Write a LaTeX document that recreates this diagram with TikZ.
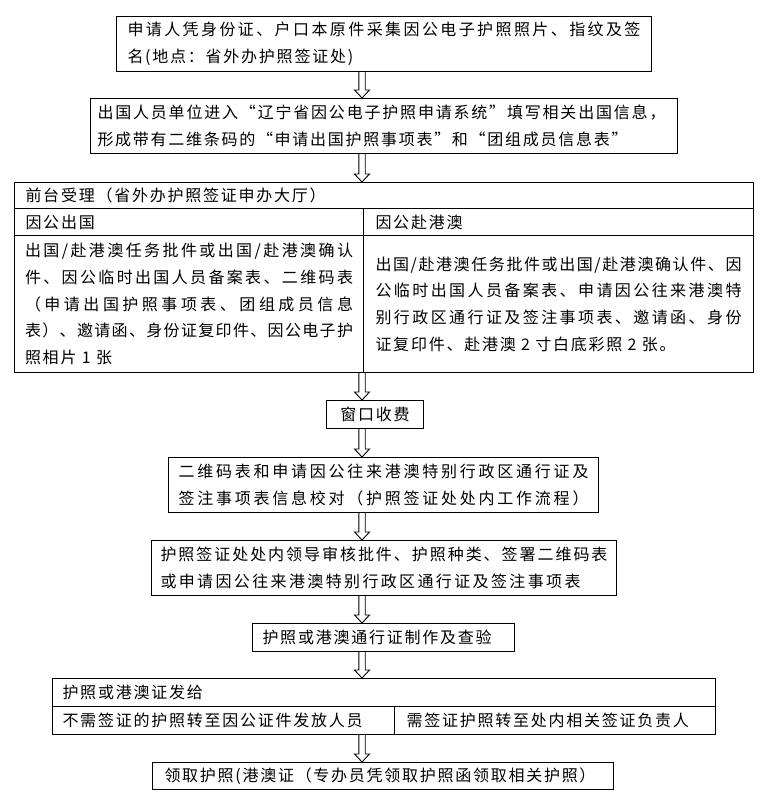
\documentclass[tikz,border=0pt]{standalone}
\usepackage{fontspec}
\setmainfont{Noto Sans CJK SC}[LetterSpace=11]
\usetikzlibrary{calc}
\ExplSyntaxOn
\cs_new_protected:Npn \rfl_spread:n #1
 {
  \bool_set_false:N \l_tmpa_bool
  \tl_map_inline:nn {#1}
   {
    \bool_if:NT \l_tmpa_bool { \hfil }
    \bool_set_true:N \l_tmpa_bool
    ##1
   }
 }
\NewDocumentCommand\spr{mm}
 {
  \makebox[#1][s]{ \rfl_spread:n {#2} }
 }
\ExplSyntaxOff
\tikzset{
  cell/.style={draw, line width=1pt, anchor=north west, inner ysep=0pt, align=left,
    font=\fontsize{16}{26.7}\selectfont},
  arrowline/.style={draw, line width=0.9pt, line join=miter},
}
\newcommand\harrow[2]{%
  \draw[arrowline] let \p1=(#1.south), \p2=(#2.north) in
   (362pt-3.2pt,\y1) -- (362pt-3.2pt,\y2+8pt) -- (362pt-7.5pt,\y2+8pt) -- (362pt,\y2)
   -- (362pt+7.5pt,\y2+8pt) -- (362pt+3.2pt,\y2+8pt) -- (362pt+3.2pt,\y1);}
\begin{document}
\begin{tikzpicture}[x=1pt,y=-1pt]
\fill[white] (0,0) rectangle (769,800);
\useasboundingbox (0,0) rectangle (769,800);

\node[cell, minimum width=535pt, minimum height=55pt, text width=513pt, inner xsep=11pt] (b1) at (116,16)
 {\spr{513pt}{申请人凭身份证、户口本原件采集因公电子护照照片、指纹及签}\\名(地点：省外办护照签证处)};

\node[cell, minimum width=587pt, minimum height=55pt, text width=573pt, inner xsep=7pt] (b2) at (90,98)
 {\spr{568pt}{出国人员单位进入“辽宁省因公电子护照申请系统”填写相关出国信息，}\\\spr{530pt}{形成带有二维条码的“申请出国护照事项表”和“团组成员信息表”}};

\node[cell, minimum width=739pt, minimum height=26pt, text width=717pt, inner xsep=11pt] (th) at (14,182)
 {前台受理（省外办护照签证申办大厅）};
\node[cell, minimum width=349pt, minimum height=27pt, text width=327pt, inner xsep=11pt] (tl1) at (14,208)
 {因公出国};
\node[cell, minimum width=390pt, minimum height=27pt, text width=366pt, inner xsep=12pt] (tr1) at (363,208)
 {因公赴港澳};
\node[cell, minimum width=349pt, minimum height=137pt, text width=328pt, inner xsep=10.5pt] (tl2) at (14,235)
 {\spr{328pt}{出国/赴港澳任务批件或出国/赴港澳确认}\\
  \spr{328pt}{件、因公临时出国人员备案表、二维码表}\\
  \spr{328pt}{（申请出国护照事项表、团组成员信息}\\
  \spr{328pt}{表）、邀请函、身份证复印件、因公电子护}\\
  照相片 1 张};
\node[cell, minimum width=390pt, minimum height=137pt, text width=366pt, inner xsep=12pt] (tr2) at (363,235)
 {\spr{366pt}{出国/赴港澳任务批件或出国/赴港澳确认件、因}\\
  \spr{366pt}{公临时出国人员备案表、申请因公往来港澳特}\\
  \spr{366pt}{别行政区通行证及签注事项表、邀请函、身份}\\
  证复印件、赴港澳 2 寸白底彩照 2 张。};

\node[cell, minimum width=97pt, minimum height=28pt, text width=77pt, inner xsep=10pt, align=center] (fee) at (326,400)
 {窗口收费};

\node[cell, minimum width=430pt, minimum height=55pt, text width=410pt, inner xsep=10pt] (b3) at (168,457)
 {\spr{410pt}{二维码表和申请因公往来港澳特别行政区通行证及}\\\spr{410pt}{签注事项表信息校对（护照签证处处内工作流程）}};

\node[cell, minimum width=465pt, minimum height=55pt, text width=447pt, inner xsep=9pt] (b4) at (151,540)
 {\spr{447pt}{护照签证处处内领导审核批件、护照种类、签署二维码表}\\\spr{420pt}{或申请因公往来港澳特别行政区通行证及签注事项表}};

\node[cell, minimum width=262pt, minimum height=28pt, text width=242pt, inner xsep=10pt] (b5) at (252,623)
 {护照或港澳通行证制作及查验};

\node[cell, minimum width=663pt, minimum height=28pt, text width=643pt, inner xsep=10pt] (t2h) at (52,678)
 {护照或港澳证发给};
\node[cell, minimum width=342pt, minimum height=28pt, text width=322pt, inner xsep=10pt] (t2l) at (52,706)
 {不需签证的护照转至因公证件发放人员};
\node[cell, minimum width=321pt, minimum height=28pt, text width=297pt, inner xsep=12pt] (t2r) at (394,706)
 {需签证护照转至处内相关签证负责人};

\node[cell, minimum width=461pt, minimum height=27pt, text width=437pt, inner xsep=12pt] (fin) at (152,762)
 {\spr{431pt}{领取护照(港澳证（专办员凭领取护照函领取相关护照）}};

\harrow{b1}{b2}
\harrow{b2}{th}
\harrow{tl2}{fee}
\harrow{fee}{b3}
\harrow{b3}{b4}
\harrow{b4}{b5}
\harrow{b5}{t2h}
\harrow{t2l}{fin}
\end{tikzpicture}
\end{document}
